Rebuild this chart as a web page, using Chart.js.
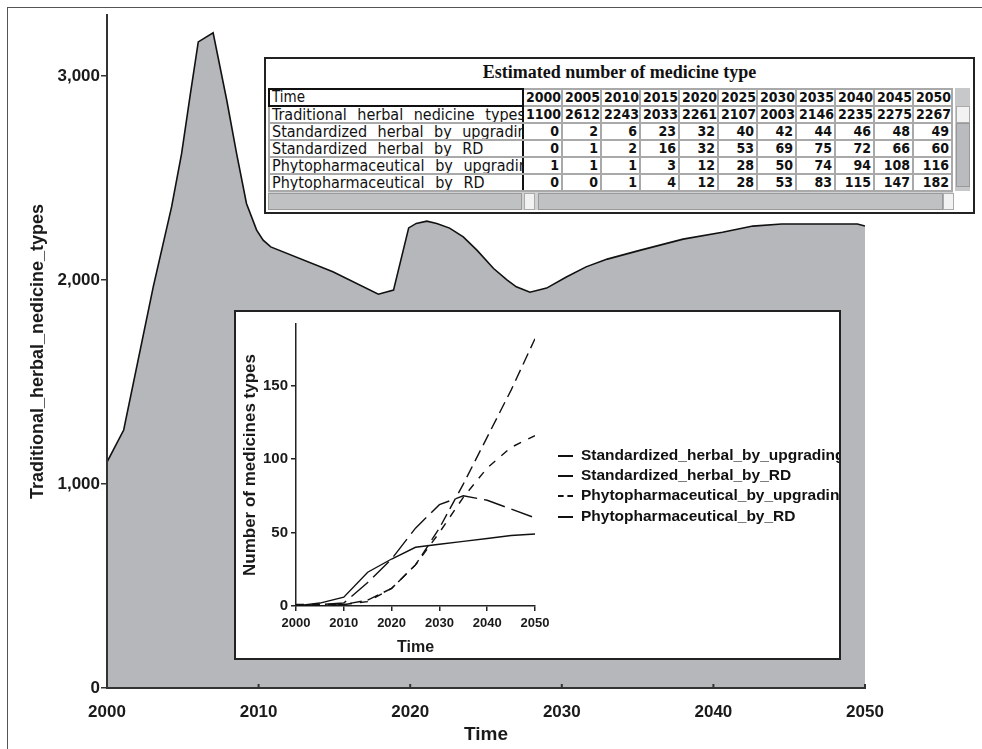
<!DOCTYPE html>
<html>
<head>
<meta charset="utf-8">
<script src="https://cdn.jsdelivr.net/npm/chart.js@4/dist/chart.umd.min.js"></script>
<style>
  body { margin: 0; background: #fff; }
  #wrap { position: relative; width: 982px; height: 749px; overflow: hidden; font-family: "Liberation Sans", Arial, sans-serif; }
  #frame { position: absolute; left: 7px; top: 7px; right: -5px; bottom: -5px; border-left: 1px solid #555; border-top: 1px solid #555; }
  #main { position: absolute; left: 0; top: 0; }

  #tbl { position: absolute; left: 264px; top: 57px; width: 711px; height: 157px; box-sizing: border-box; border: 2px solid #222; background: #fff; overflow: hidden; }
  #tbl .ttl { position: absolute; left: 0; right: 0; top: 3px; text-align: center; font: bold 18px "Liberation Serif", "Times New Roman", serif; color: #111; }
  #grid { position: absolute; left: 2px; top: 29px; width: 685px; border-collapse: collapse; table-layout: fixed;
          font-family: "Liberation Sans Narrow", "Arial Narrow", "DejaVu Sans Condensed", sans-serif; font-stretch: condensed; }
  #grid td { height: 15px; padding: 0 2px; border: 2px solid #a9a9a9; white-space: nowrap; overflow: hidden; font-size: 14px; line-height: 15px; color: #111; }
  #grid td.lab { text-align: left; word-spacing: 6px; font-size: 16px; border-right: 2px solid #111; }
  #grid td.num { text-align: right; font-weight: bold; }
  #grid td.head { border: 2px solid #111; font-size: 15px; }
  #vbar { position: absolute; left: 689px; top: 29px; width: 15px; height: 103px; background: #c6c8ca; }
  #vbar .up { position: absolute; left: 1px; top: 18px; width: 12px; height: 15px; background: #f2f2f2; border: 1px solid #aaa; }
  #vbar .thumb { position: absolute; left: 1px; top: 35px; width: 12px; height: 62px; background: #b9bbbe; border: 1px solid #999; }
  #hbar { position: absolute; left: 2px; top: 133px; width: 685px; height: 18px; background: #d0d1d3; }
  #hbar .lft { position: absolute; left: 0; top: 1px; width: 252px; height: 15px; background: #bfc1c3; border: 1px solid #999; }
  #hbar .arr { position: absolute; top: 1px; width: 9px; height: 15px; background: #f2f2f2; border: 1px solid #aaa; }
  #hbar .thumb { position: absolute; left: 270px; top: 1px; width: 403px; height: 15px; background: #bfc1c3; border: 1px solid #999; }

  #inset { position: absolute; left: 234px; top: 310px; width: 607px; height: 350px; box-sizing: border-box; border: 2px solid #222; background: #fff; overflow: hidden; }
  #insetChart { position: absolute; left: 0; top: 0; }
  .leg { position: absolute; left: 322px; height: 18px; line-height: 18px; white-space: nowrap; font: bold 15.5px "Liberation Sans", Arial, sans-serif; color: #111; }
  .leg .ln { display: inline-block; width: 15px; vertical-align: middle; border-top: 2px solid #111; margin-right: 8px; }
  .leg .ln.dash { border-top-style: dashed; }
</style>
</head>
<body>
<div id="wrap">
  <div id="frame"></div>
  <canvas id="main" width="982" height="749"></canvas>

  <div id="tbl">
    <div class="ttl">Estimated number of medicine type</div>
    <table id="grid"></table>
    <div id="vbar"><div class="up"></div><div class="thumb"></div></div>
    <div id="hbar"><div class="lft"></div><div class="arr" style="left:256px"></div><div class="thumb"></div><div class="arr" style="left:675px"></div></div>
  </div>

  <div id="inset">
    <canvas id="insetChart" width="603" height="346"></canvas>
  </div>
</div>

<script>
// main curve
const curveYears  = [2000, 2001.1, 2003.05, 2004.26, 2004.92, 2005.47, 2006.02, 2007.0, 2007.9, 2008.55, 2009.2, 2009.87, 2010.3, 2010.8, 2014.9, 2017.9, 2018.9, 2019.9, 2020.4, 2021.1, 2021.75, 2022.6, 2023.5, 2024.4, 2025.5, 2026.4, 2027.0, 2027.9, 2029.0, 2030.3, 2031.6, 2033.0, 2035.2, 2038.0, 2040.6, 2042.6, 2044.5, 2049.5, 2050];
const curveValues = [1108, 1265, 1967, 2359, 2620, 2899, 3168, 3213, 2882, 2620, 2376, 2245, 2196, 2163, 2041, 1931, 1951, 2256, 2278, 2289, 2278, 2255, 2212, 2147, 2057, 2000, 1967, 1941, 1961, 2015, 2065, 2103, 2147, 2201, 2235, 2265, 2275, 2275, 2265];
const mainYTicks = [0, 1000, 2000, 3000];
const mainXTicks = [2000, 2010, 2020, 2030, 2040, 2050];

// table / inset data
const tableYears = [2000, 2005, 2010, 2015, 2020, 2025, 2030, 2035, 2040, 2045, 2050];
const traditionalTypes = [1100, 2612, 2243, 2033, 2261, 2107, 2003, 2146, 2235, 2275, 2267];
const stdUpgrading   = [0, 2, 6, 23, 32, 40, 42, 44, 46, 48, 49];
const stdRD          = [0, 1, 2, 16, 32, 53, 69, 75, 72, 66, 60];
const phytoUpgrading = [1, 1, 1, 3, 12, 28, 50, 74, 94, 108, 116];
const phytoRD        = [0, 0, 1, 4, 12, 28, 53, 83, 115, 147, 182];
const insetYTicks = [0, 50, 100, 150];

const tableLabels = ["Traditional herbal nedicine types", "Standardized herbal by upgrading", "Standardized herbal by RD", "Phytopharmaceutical by upgrading", "Phytopharmaceutical by RD"];
const legendLabels = ["Standardized_herbal_by_upgrading", "Standardized_herbal_by_RD", "Phytopharmaceutical_by_upgrading", "Phytopharmaceutical_by_RD"];

const FONT = "'Liberation Sans', Arial, sans-serif";
const INK = "#1a1a1a";

// --- table ---
(function buildTable() {
  const grid = document.getElementById("grid");
  let html = '<colgroup><col style="width:254px">' + tableYears.map(() => '<col style="width:39px">').join("") + "</colgroup>";
  html += '<tr><td class="lab head">Time</td>' + tableYears.map((y) => `<td class="num">${y}</td>`).join("") + "</tr>";
  const rows = [traditionalTypes, stdUpgrading, stdRD, phytoUpgrading, phytoRD];
  rows.forEach((r, i) => {
    html += `<tr><td class="lab">${tableLabels[i]}</td>` + r.map((v) => `<td class="num">${v}</td>`).join("") + "</tr>";
  });
  grid.innerHTML = html;
})();

// --- legend of the inset ---
(function buildLegend() {
  const box = document.getElementById("inset");
  const tops = [134, 154, 174, 195];
  const dashed = [false, false, true, false];
  legendLabels.forEach((t, i) => {
    const d = document.createElement("div");
    d.className = "leg";
    d.style.top = tops[i] + "px";
    d.innerHTML = `<span class="ln${dashed[i] ? " dash" : ""}"></span>${t}`;
    box.appendChild(d);
  });
})();

const fixTicks = (vals) => (scale) => { scale.ticks = vals.map((v) => ({ value: v })); };

// ticks on the main x axis point into the plot
const innerTicks = {
  id: "innerTicks",
  afterDraw(chart) {
    const { ctx, scales: { x }, chartArea } = chart;
    ctx.save();
    ctx.strokeStyle = "#333";
    ctx.lineWidth = 2;
    x.ticks.forEach((t) => {
      const px = x.getPixelForValue(t.value);
      ctx.beginPath();
      ctx.moveTo(px, chartArea.bottom);
      ctx.lineTo(px, chartArea.bottom - 4);
      ctx.stroke();
    });
    ctx.restore();
  },
};

new Chart(document.getElementById("main"), {
  type: "line",
  data: {
    datasets: [{
      data: curveYears.map((x, i) => ({ x, y: curveValues[i] })),
      borderColor: "#111",
      borderWidth: 1.6,
      backgroundColor: "rgb(181,183,186)",
      fill: "origin",
      pointRadius: 0,
      tension: 0,
    }],
  },
  options: {
    responsive: false,
    animation: false,
    layout: { padding: { top: 15, right: 117, left: 0, bottom: 0 } },
    plugins: { legend: { display: false }, tooltip: { enabled: false } },
    scales: {
      x: {
        type: "linear", min: 2000, max: 2050,
        afterBuildTicks: fixTicks(mainXTicks),
        afterFit: (s) => { s.height = 61; },
        grid: { drawOnChartArea: false, drawTicks: false },
        border: { color: "#333", width: 2, z: 1 },
        ticks: { padding: 14, color: INK, font: { family: FONT, size: 17, weight: "bold" }, callback: (v) => String(v) },
        title: { display: true, text: "Time", color: INK, font: { family: FONT, size: 19, weight: "bold" }, padding: { top: 0, bottom: 3 } },
      },
      y: {
        min: 0, max: 3300,
        afterBuildTicks: fixTicks(mainYTicks),
        afterFit: (s) => { s.width = 107; },
        grid: { drawOnChartArea: false, tickLength: 6, color: "#333", lineWidth: 1.5 },
        border: { color: "#333", width: 2, z: 1 },
        ticks: { padding: 1, color: INK, font: { family: FONT, size: 17, weight: "bold" }, callback: (v) => v.toLocaleString("en-US") },
        title: { display: true, text: "Traditional_herbal_nedicine_types", color: INK, font: { family: FONT, size: 18, weight: "bold" }, padding: { top: 27, bottom: 0 } },
      },
    },
  },
  plugins: [innerTicks],
});

// --- inset line chart ---
const insetSeries = [
  { data: stdUpgrading, dash: [] },
  { data: stdRD, dash: [22, 7] },
  { data: phytoUpgrading, dash: [8, 8] },
  { data: phytoRD, dash: [12, 6] },
];

new Chart(document.getElementById("insetChart"), {
  type: "line",
  data: {
    datasets: insetSeries.map((s, i) => ({
      label: legendLabels[i],
      data: tableYears.map((x, j) => ({ x, y: s.data[j] })),
      borderColor: "#111",
      borderWidth: 1.4,
      borderDash: s.dash,
      pointRadius: 0,
      fill: false,
      tension: 0,
    })),
  },
  options: {
    responsive: false,
    animation: false,
    layout: { padding: { top: 11, right: 304, left: 0, bottom: 0 } },
    plugins: { legend: { display: false }, tooltip: { enabled: false } },
    scales: {
      x: {
        type: "linear", min: 2000, max: 2050,
        afterBuildTicks: fixTicks(mainXTicks),
        afterFit: (s) => { s.height = 52; },
        grid: { drawOnChartArea: false, tickLength: 5, color: "#222", lineWidth: 1.5 },
        border: { color: "#222", width: 1.5 },
        ticks: { padding: 5, color: INK, font: { family: FONT, size: 13, weight: "bold" }, callback: (v) => String(v) },
        title: { display: true, text: "Time", color: INK, font: { family: FONT, size: 16, weight: "bold" }, padding: { top: 0, bottom: 1 } },
      },
      y: {
        min: 0, max: 192,
        afterBuildTicks: fixTicks(insetYTicks),
        afterFit: (s) => { s.width = 60; },
        grid: { drawOnChartArea: false, tickLength: 5, color: "#222", lineWidth: 1.5 },
        border: { color: "#222", width: 1.5 },
        ticks: { padding: 3, color: INK, font: { family: FONT, size: 15, weight: "bold" } },
        title: { display: true, text: "Number of medicines types", color: INK, font: { family: FONT, size: 17, weight: "bold" }, padding: { top: 4, bottom: 0 } },
      },
    },
  },
});
</script>
</body>
</html>
